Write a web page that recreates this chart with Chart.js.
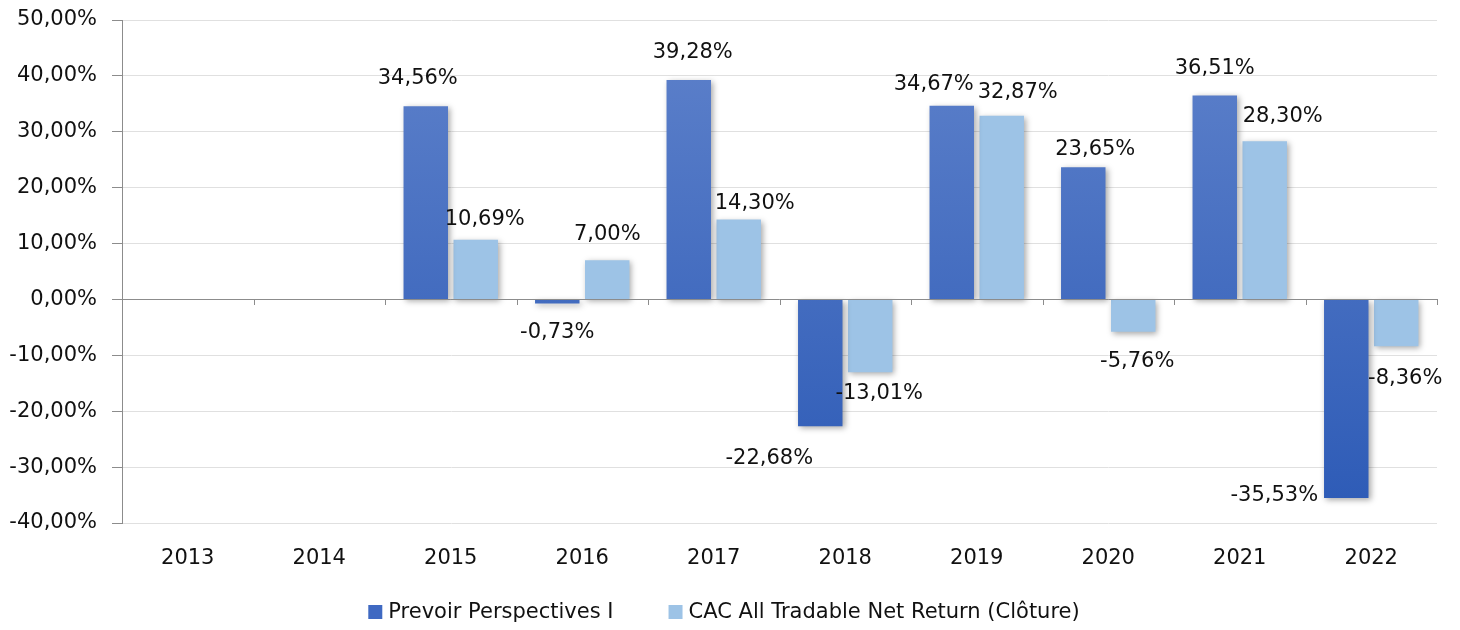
<!DOCTYPE html>
<html>
<head>
<meta charset="utf-8">
<script src="https://cdn.jsdelivr.net/npm/chart.js@4"></script>
<style>
  html, body { margin: 0; padding: 0; background: #fff; }
  #wrap { width: 1460px; height: 630px; }
</style>
</head>
<body>
<div id="wrap"><canvas id="myChart" width="1460" height="630"></canvas></div>
<script>
const years = ["2013", "2014", "2015", "2016", "2017", "2018", "2019", "2020", "2021", "2022"];
const fundReturns = [null, null, 34.56, -0.73, 39.28, -22.68, 34.67, 23.65, 36.51, -35.53];
const indexReturns = [null, null, 10.69, 7.0, 14.3, -13.01, 32.87, -5.76, 28.3, -8.36];
const yTicks = [-40, -30, -20, -10, 0, 10, 20, 30, 40, 50];

// label nudges (px) to mimic the hand-placed labels of the original
const labelNudge = [
  [[0, 0], [0, 0], [-8, -4], [0, 5], [4, -3], [-51, 8], [-18, 3], [12, 6], [0, -3], [-72, -26]],
  [[0, 0], [0, 0], [9, 4], [0, -2], [16, 8], [9, -3], [16, 1], [4, 6], [18, -1], [9, 8]]
];

const FONT = "'DejaVu Sans', sans-serif";
const FONT_SIZE = 21;
const DARK = "#3F69C2";
const LIGHT = "#9DC3E6";
const fmt = v => v.toFixed(2).replace(".", ",") + "%";

function darkGradient(context) {
  const chart = context.chart;
  const area = chart.chartArea;
  if (!area) return DARK;
  const g = chart.ctx.createLinearGradient(0, area.top, 0, area.bottom);
  g.addColorStop(0, "#5F82CB");
  g.addColorStop(1, "#2C5AB6");
  return g;
}

const shadowPlugin = {
  id: "barShadow",
  beforeDatasetsDraw(chart) {
    const ctx = chart.ctx;
    ctx.save();
    ctx.shadowColor = "rgba(0,0,0,0.35)";
    ctx.shadowBlur = 6;
    ctx.shadowOffsetX = 2;
    ctx.shadowOffsetY = 2;
  },
  afterDatasetsDraw(chart) {
    chart.ctx.restore();
  }
};

const zeroLinePlugin = {
  id: "zeroLine",
  afterDatasetsDraw(chart) {
    const ctx = chart.ctx;
    const y0 = Math.round(chart.scales.y.getPixelForValue(0));
    const area = chart.chartArea;
    ctx.save();
    ctx.strokeStyle = "#8C8C8C";
    ctx.lineWidth = 1;
    ctx.beginPath();
    ctx.moveTo(area.left, y0 + 0.5);
    ctx.lineTo(area.right, y0 + 0.5);
    const step = (area.right - area.left) / years.length;
    for (let i = 0; i <= years.length; i++) {
      const x = Math.round(area.left + i * step) + 0.5;
      ctx.moveTo(x, y0);
      ctx.lineTo(x, y0 + 6);
    }
    ctx.stroke();
    ctx.restore();
  }
};

const labelPlugin = {
  id: "valueLabels",
  afterDatasetsDraw(chart) {
    const ctx = chart.ctx;
    ctx.save();
    ctx.font = FONT_SIZE + "px " + FONT;
    ctx.fillStyle = "#111";
    ctx.textAlign = "center";
    ctx.textBaseline = "middle";
    chart.data.datasets.forEach((ds, di) => {
      const meta = chart.getDatasetMeta(di);
      meta.data.forEach((bar, i) => {
        const v = ds.data[i];
        if (v === null || v === undefined) return;
        const nudge = labelNudge[di][i];
        const y = v >= 0 ? bar.y - 24 : bar.y + 24;
        ctx.fillText(fmt(v), bar.x + nudge[0], y + nudge[1]);
      });
    });
    ctx.restore();
  }
};

// simple bottom legend, drawn by hand so the gap between items can match
const legendPlugin = {
  id: "bottomLegend",
  afterDraw(chart) {
    const ctx = chart.ctx;
    ctx.save();
    ctx.font = FONT_SIZE + "px " + FONT;
    ctx.textBaseline = "middle";
    ctx.textAlign = "left";
    const colors = [DARK, LIGHT];
    const box = 14, gapText = 6, gapItem = 55;
    const widths = chart.data.datasets.map(ds => ctx.measureText(ds.label).width);
    const total = widths.reduce((a, w) => a + box + gapText + w, 0) + gapItem;
    let x = 724 - total / 2;
    const y = 612;
    chart.data.datasets.forEach((ds, i) => {
      ctx.fillStyle = colors[i];
      ctx.fillRect(x, y - box / 2, box, box);
      x += box + gapText;
      ctx.fillStyle = "#111";
      ctx.fillText(ds.label, x, y + 1);
      x += widths[i] + gapItem;
    });
    ctx.restore();
  }
};

const ctx = document.getElementById("myChart").getContext("2d");

new Chart(ctx, {
  type: "bar",
  data: {
    labels: years,
    datasets: [
      {
        label: "Prevoir Perspectives I",
        data: fundReturns,
        backgroundColor: darkGradient,
        borderWidth: 0,
        categoryPercentage: 0.76,
        barPercentage: 0.89
      },
      {
        label: "CAC All Tradable Net Return (Clôture)",
        data: indexReturns,
        backgroundColor: LIGHT,
        borderWidth: 0,
        categoryPercentage: 0.76,
        barPercentage: 0.89
      }
    ]
  },
  options: {
    responsive: false,
    animation: false,
    layout: { padding: { top: 20, right: 23, left: 4, bottom: 47 } },
    plugins: {
      tooltip: { enabled: false },
      legend: { display: false }
    },
    scales: {
      x: {
        offset: true,
        grid: { display: false, drawTicks: false },
        border: { display: false },
        ticks: { font: { family: FONT, size: FONT_SIZE }, color: "#111", padding: 23 },
        afterFit(axis) { axis.height = 60; }
      },
      y: {
        min: -40,
        max: 50,
        afterBuildTicks(axis) {
          axis.ticks = yTicks.map(v => ({ value: v }));
        },
        afterFit(axis) {
          axis.width = 118;
          axis.paddingTop = 0;
          axis.paddingBottom = 0;
        },
        grid: { color: "#E0E0E0", tickLength: 10, tickColor: "#8C8C8C" },
        border: { display: true, color: "#8C8C8C" },
        ticks: {
          font: { family: FONT, size: FONT_SIZE },
          color: "#111",
          padding: 15,
          callback: v => fmt(v)
        }
      }
    }
  },
  plugins: [shadowPlugin, zeroLinePlugin, labelPlugin, legendPlugin]
});
</script>
</body>
</html>
